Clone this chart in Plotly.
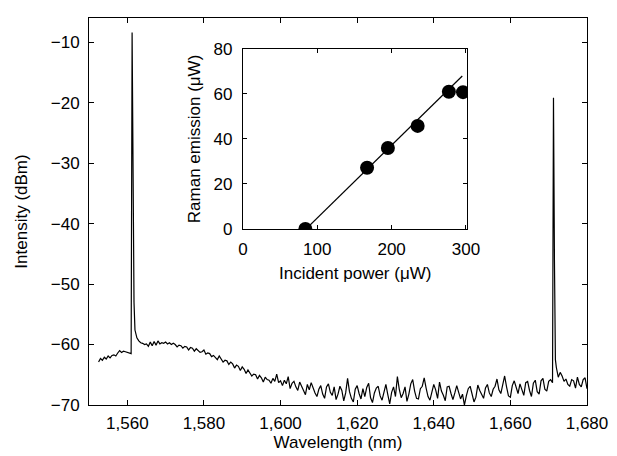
import numpy as np
import plotly.graph_objects as go

# spectrum sampled every 0.5 nm starting at 1552.5 nm (dBm)
wl_start = 1552.5
wl_step = 0.5
intensity = [
    -62.9, -62.3, -62.6, -62.1, -62.4, -61.9, -62.2, -61.8, -61.7, -61.9,
    -61.4, -61.0, -61.3, -61.1, -61.2, -61.3, -61.4, -61.5, -42.0, -57.6,
    -58.9, -59.4, -59.7, -59.8, -60.0, -59.9, -60.3, -59.6, -60.2, -59.5,
    -60.1, -59.4, -59.9, -59.7, -59.8, -59.6, -59.9, -59.7, -60.0, -59.8,
    -60.0, -60.4, -60.1, -60.2, -60.6, -60.3, -60.4, -60.9, -60.5, -60.6,
    -61.1, -60.7, -61.0, -61.3, -61.2, -60.9, -61.6, -61.4, -61.5, -62.0,
    -61.8, -62.1, -62.5, -61.9, -62.4, -62.9, -62.6, -62.7, -63.3, -62.9,
    -63.2, -63.9, -63.4, -63.6, -64.3, -63.7, -64.1, -64.8, -64.2, -64.6,
    -65.2, -64.9, -65.0, -65.7, -65.1, -65.5, -66.2, -65.4, -65.8, -65.9,
    -66.4, -65.6, -66.1, -64.9, -66.3, -66.0, -66.8, -65.9, -66.5, -65.3,
    -67.3, -66.4, -66.1, -67.0, -67.6, -66.2, -66.9, -67.8, -68.3, -66.6,
    -67.5, -66.3, -67.2, -68.0, -68.6, -67.4, -66.8, -68.2, -68.9, -67.0,
    -66.5, -67.9, -68.4, -67.0, -69.1, -68.2, -66.9, -67.6, -69.3, -68.0,
    -65.6, -67.8, -68.9, -69.5, -67.4, -66.8, -68.1, -69.0, -67.3, -68.6,
    -67.1, -66.4, -68.8, -69.6, -68.0, -67.2, -66.9, -68.5, -69.2, -67.7,
    -66.6, -68.3, -69.8, -67.9, -67.0, -68.6, -65.3, -67.4, -68.8, -68.1,
    -67.0, -69.4, -68.2, -66.5, -65.8, -67.7, -68.9, -69.0, -67.3, -66.9,
    -65.5, -67.2, -68.6, -69.2, -67.8, -66.6, -67.5, -68.9, -66.2, -67.7,
    -68.4, -69.3, -67.0, -66.9, -68.1, -69.1, -68.0, -66.8, -67.9, -69.0,
    -68.2, -70.0, -68.5, -67.3, -66.9, -68.0, -69.5, -68.7, -66.7, -67.6,
    -68.3, -68.9, -67.2, -66.6, -68.0, -68.6, -67.4, -66.9, -65.7, -67.5,
    -68.1, -66.4, -65.2, -67.0, -68.5, -68.7, -66.8, -66.0, -67.3, -68.1,
    -66.5, -67.4, -68.4, -66.3, -66.1, -67.6, -68.6, -66.4, -65.9, -67.8,
    -68.2, -66.0, -65.6, -67.4, -67.7, -66.1, -65.8, -66.3, -46.0, -63.8,
    -65.4, -64.6, -65.2, -66.1, -65.7, -66.6, -66.9, -65.8, -66.0, -67.2,
    -65.4, -66.6, -67.0, -65.8, -65.5, -67.3,
]

# narrow laser lines (pump and Raman) between grid samples
peak_wl = [1561.25, 1561.75, 1671.25, 1671.75]
peak_db = [-8.4, -53.0, -19.2, -62.5]

# inset: Raman emission vs incident power
incident = [84, 167, 195, 235, 277, 296]
raman = [0, 27.2, 36.0, 45.8, 61.0, 60.8]
fit_x = [85, 295]
fit_y = [0, 68]

wl = wl_start + wl_step * np.arange(len(intensity))
all_wl = np.concatenate([wl, peak_wl])
all_db = np.concatenate([intensity, peak_db])
order = np.argsort(all_wl)
all_wl = all_wl[order]
all_db = all_db[order]

FONT = 'Liberation Sans, Arial, Helvetica, sans-serif'
FS = 17

fig = go.Figure()

fig.add_trace(go.Scatter(
    x=all_wl, y=all_db, mode='lines',
    line=dict(color='black', width=1.2),
    showlegend=False, hoverinfo='skip',
))

fig.add_trace(go.Scatter(
    x=fit_x, y=fit_y, mode='lines',
    line=dict(color='black', width=1.2),
    xaxis='x2', yaxis='y2', showlegend=False,
))

fig.add_trace(go.Scatter(
    x=incident, y=raman, mode='markers',
    marker=dict(color='black', size=14),
    xaxis='x2', yaxis='y2', showlegend=False,
))

axis_common = dict(
    showline=True, linecolor='black', linewidth=1,
    mirror='ticks', ticks='inside', tickcolor='black',
    showgrid=False, zeroline=False,
    tickfont=dict(family=FONT, size=FS, color='black'),
)

fig.update_layout(
    width=617, height=456,
    margin=dict(l=89, r=23, t=9, b=49),
    paper_bgcolor='white', plot_bgcolor='white',
    font=dict(family=FONT, size=FS, color='black'),
    xaxis=dict(
        range=[1550, 1680], tickvals=[1560, 1580, 1600, 1620, 1640, 1660, 1680],
        tickformat=',', ticklen=5, ticklabelstandoff=3,
        title=dict(text='Wavelength (nm)', standoff=2,
                   font=dict(family=FONT, size=FS)),
        **axis_common,
    ),
    yaxis=dict(
        range=[-70, -6], tickvals=[-70, -60, -50, -40, -30, -20, -10],
        ticklen=5, ticklabelstandoff=5,
        title=dict(text='Intensity (dBm)', standoff=18,
                   font=dict(family=FONT, size=FS)),
        **axis_common,
    ),
    xaxis2=dict(
        domain=[0.309, 0.760], anchor='y2',
        range=[0, 302], tickvals=[0, 100, 200, 300],
        ticklen=4, ticklabelstandoff=5,
        title=dict(text='Incident power (μW)', standoff=8,
                   font=dict(family=FONT, size=FS)),
        **axis_common,
    ),
    yaxis2=dict(
        domain=[0.455, 0.920], anchor='x2',
        range=[0, 80], tickvals=[0, 20, 40, 60, 80],
        ticklen=4, ticklabelstandoff=6,
        title=dict(text='Raman emission (μW)', standoff=8,
                   font=dict(family=FONT, size=FS)),
        **axis_common,
    ),
)

# drop the default page margin so the figure fills the window exactly
fig.write_html("out.html", config={'displayModeBar': False},
               post_script="document.body.style.margin='0';")
